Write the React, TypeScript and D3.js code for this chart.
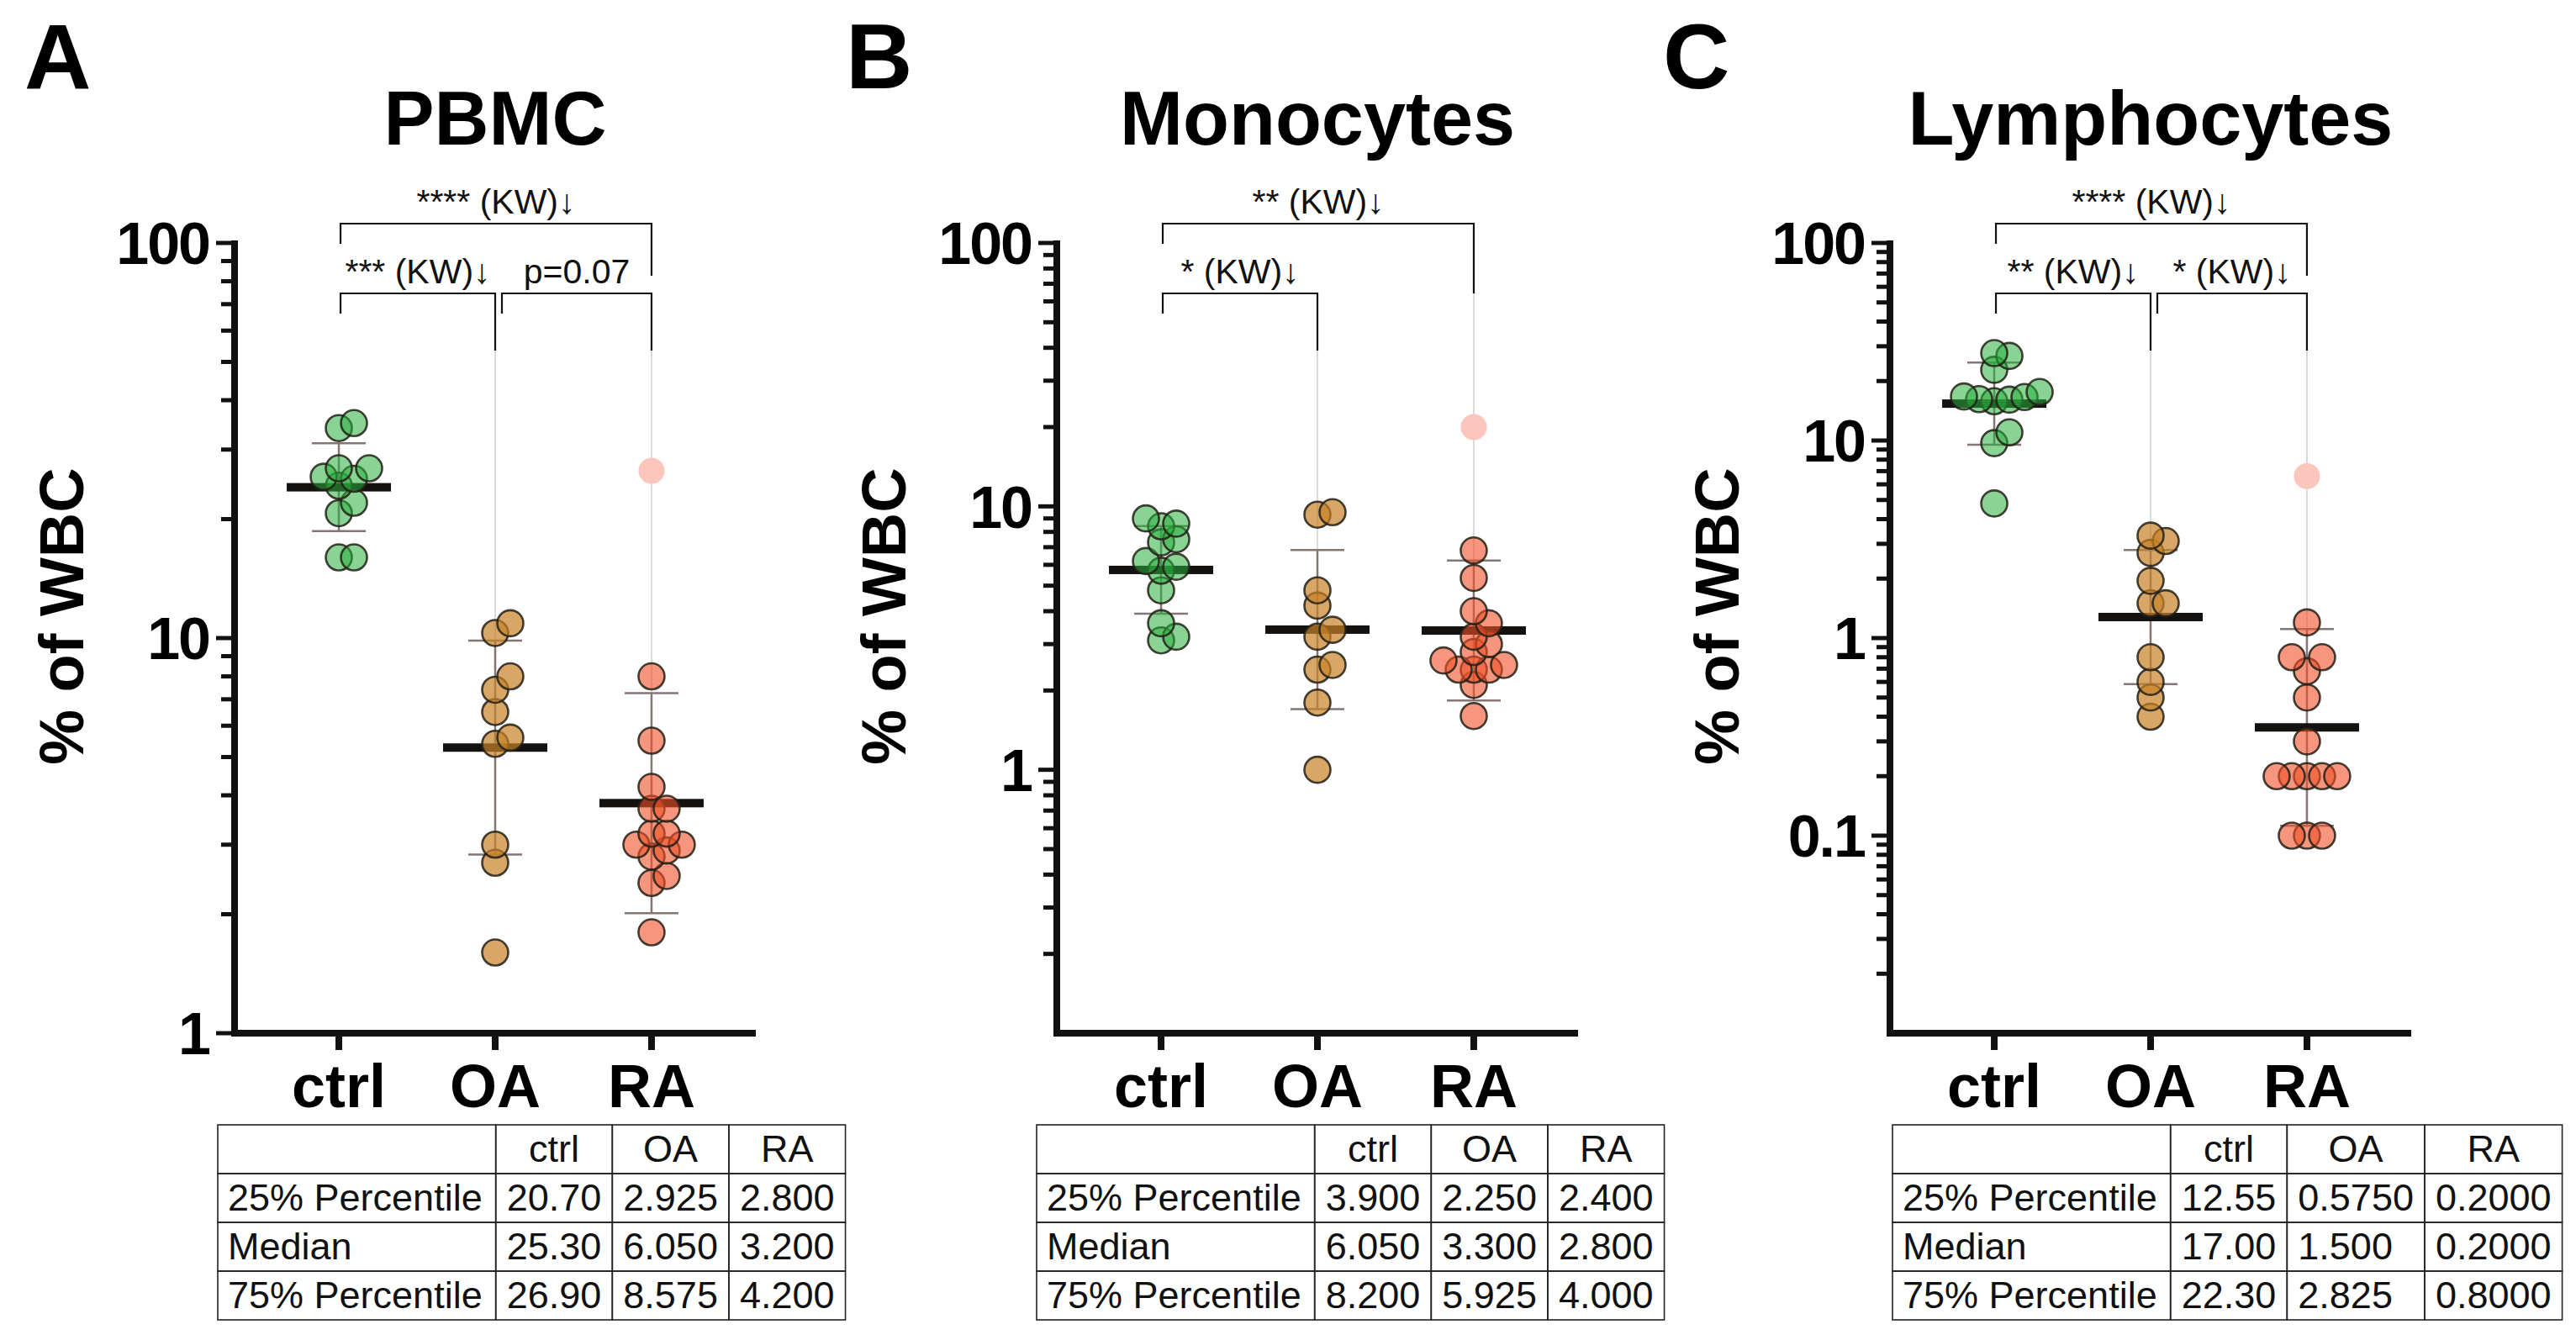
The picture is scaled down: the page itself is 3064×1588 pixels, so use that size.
import * as d3 from "d3";
import {useEffect, useRef} from "react";

const groups = ["ctrl", "OA", "RA"];

// PBMC, % of WBC
const pbmcCtrl = [16, 16, 20.7, 22, 24.3, 25.3, 25.6, 26.9, 26.9, 34, 35];
const pbmcOA = [1.6, 2.7, 3.0, 5.4, 5.6, 6.5, 7.4, 8.0, 10.3, 10.9];
const pbmcRA = [1.8, 2.4, 2.5, 2.8, 2.9, 3.0, 3.0, 3.2, 3.2, 3.7, 3.7, 4.2, 5.5, 8.0];
const pbmcRAOutlier = [26.5];

// Monocytes, % of WBC
const monoCtrl = [3.1, 3.2, 3.6, 4.8, 5.7, 5.9, 6.2, 7.3, 7.5, 8.4, 8.6, 9.0];
const monoOA = [1.0, 1.8, 2.4, 2.5, 3.2, 3.4, 4.2, 4.8, 9.3, 9.5];
const monoRA = [1.6, 2.1, 2.4, 2.4, 2.4, 2.5, 2.6, 2.8, 3.0, 3.2, 3.6, 4.0, 5.35, 6.8];
const monoRAOutlier = [20];

// Lymphocytes, % of WBC
const lymphCtrl = [4.8, 9.7, 11.0, 15.8, 16.1, 16.2, 16.6, 16.7, 17.6, 22.8, 26.8, 27.7];
const lymphOA = [0.4, 0.5, 0.6, 0.8, 1.5, 1.5, 1.95, 2.7, 3.1, 3.3];
const lymphRA = [0.1, 0.1, 0.1, 0.2, 0.2, 0.2, 0.2, 0.2, 0.3, 0.5, 0.68, 0.8, 0.8, 1.2];
const lymphRAOutlier = [6.6];

// y axis domains and labelled ticks
const pbmcDomain = [1, 100];
const monoDomain = [0.1, 100];
const lymphDomain = [0.01, 100];
const pbmcTicks = [1, 10, 100];
const monoTicks = [1, 10, 100];
const lymphTicks = [0.1, 1, 10, 100];

// significance brackets
const pbmcBrackets = [
    {from: "ctrl", to: "RA", level: 1, label: "**** (KW)\u2193"},
    {from: "ctrl", to: "OA", level: 0, label: "*** (KW)\u2193"},
    {from: "OA", to: "RA", level: 0, label: "p=0.07"},
];
const monoBrackets = [
    {from: "ctrl", to: "RA", level: 1, label: "** (KW)\u2193"},
    {from: "ctrl", to: "OA", level: 0, label: "* (KW)\u2193"},
];
const lymphBrackets = [
    {from: "ctrl", to: "RA", level: 1, label: "**** (KW)\u2193"},
    {from: "ctrl", to: "OA", level: 0, label: "** (KW)\u2193"},
    {from: "OA", to: "RA", level: 0, label: "* (KW)\u2193"},
];

// summary tables
const statRows = ["25% Percentile", "Median", "75% Percentile"];
const pbmcTable = [["20.70", "2.925", "2.800"], ["25.30", "6.050", "3.200"], ["26.90", "8.575", "4.200"]];
const monoTable = [["3.900", "2.250", "2.400"], ["6.050", "3.300", "2.800"], ["8.200", "5.925", "4.000"]];
const lymphTable = [["12.55", "0.5750", "0.2000"], ["17.00", "1.500", "0.2000"], ["22.30", "2.825", "0.8000"]];

const fills = ["rgba(40,175,60,0.55)", "rgba(200,130,40,0.7)", "rgba(240,80,40,0.6)"];
const font = "'Liberation Sans', Arial, Helvetica, sans-serif";

export default function App() {
    const svgRef = useRef(null);

    useEffect(() => {
        if (!svgRef.current) return;
        const svg = d3.select(svgRef.current);
        svg.selectAll("*").remove();

        const panels = [
            {letter: "A", letterX: 29, title: "PBMC", axisX: 279, tableX: 259, domain: pbmcDomain, ticks: pbmcTicks,
                data: [pbmcCtrl, pbmcOA, pbmcRA], outliers: [[], [], pbmcRAOutlier], brackets: pbmcBrackets, table: pbmcTable},
            {letter: "B", letterX: 1006, title: "Monocytes", axisX: 1257, tableX: 1233, domain: monoDomain, ticks: monoTicks,
                data: [monoCtrl, monoOA, monoRA], outliers: [[], [], monoRAOutlier], brackets: monoBrackets, table: monoTable},
            {letter: "C", letterX: 1978, title: "Lymphocytes", axisX: 2248, tableX: 2251, domain: lymphDomain, ticks: lymphTicks,
                data: [lymphCtrl, lymphOA, lymphRA], outliers: [[], [], lymphRAOutlier], brackets: lymphBrackets, table: lymphTable},
        ];

        const yTop = 289, yBottom = 1229;
        const r = 15.5;

        const measure = (txt: string, size: number) => {
            const t = svg.append("text").attr("font-family", font).attr("font-size", size).text(txt);
            const w = (t.node() as SVGTextElement).getComputedTextLength();
            t.remove();
            return w;
        };

        panels.forEach(p => {
            const g = svg.append("g");
            const y = d3.scaleLog().domain(p.domain).range([yBottom, yTop]);
            const x = d3.scalePoint().domain(groups).range([p.axisX, p.axisX + 620]).padding(0.667);

            // letter + title
            g.append("text").attr("x", p.letterX).attr("y", 105)
                .attr("font-family", font).attr("font-weight", "bold").attr("font-size", 110)
                .text(p.letter);
            g.append("text").attr("x", x("OA")).attr("y", 172).attr("text-anchor", "middle")
                .attr("font-family", font).attr("font-weight", "bold").attr("font-size", 90)
                .text(p.title);

            // y title
            g.append("text")
                .attr("transform", `translate(${p.axisX - 180},733) rotate(-90)`)
                .attr("text-anchor", "middle")
                .attr("font-family", font).attr("font-weight", "bold").attr("font-size", 74)
                .text("% of WBC");

            // y ticks
            const allTicks = y.ticks().filter(v => v > p.domain[0] * 1.0001 || p.ticks.includes(v));
            allTicks.forEach(v => {
                const major = p.ticks.some(t => Math.abs(t - v) / t < 1e-6);
                g.append("line")
                    .attr("x1", p.axisX - (major ? 22 : 16)).attr("x2", p.axisX)
                    .attr("y1", y(v)).attr("y2", y(v))
                    .attr("stroke", "#111").attr("stroke-width", 5);
            });
            p.ticks.forEach(v => {
                g.append("text").attr("x", p.axisX - 30).attr("y", y(v)).attr("dy", "0.36em")
                    .attr("text-anchor", "end")
                    .attr("font-family", font).attr("font-weight", "bold").attr("font-size", 70)
                    .attr("letter-spacing", -2)
                    .text(String(v));
            });

            // axes
            g.append("line").attr("x1", p.axisX).attr("x2", p.axisX).attr("y1", yTop - 3).attr("y2", yBottom + 4)
                .attr("stroke", "#111").attr("stroke-width", 8);
            g.append("line").attr("x1", p.axisX - 4).attr("x2", p.axisX + 620).attr("y1", yBottom).attr("y2", yBottom)
                .attr("stroke", "#111").attr("stroke-width", 8);
            groups.forEach(c => {
                g.append("line").attr("x1", x(c)).attr("x2", x(c)).attr("y1", yBottom).attr("y2", yBottom + 20)
                    .attr("stroke", "#111").attr("stroke-width", 8);
                g.append("text").attr("x", x(c)).attr("y", 1317).attr("text-anchor", "middle")
                    .attr("font-family", font).attr("font-weight", "bold").attr("font-size", 72)
                    .text(c);
            });

            // geometric mean and geometric SD
            const stats = p.data.map((vals, i) => {
                const logs = vals.concat(p.outliers[i]).map(v => Math.log10(v));
                const m = d3.mean(logs) as number;
                const sd = d3.deviation(logs) as number;
                return {mean: Math.pow(10, m), lo: Math.pow(10, m - sd), hi: Math.pow(10, m + sd)};
            });

            // brackets
            const levelY = [349, 266];
            const tickBottom: Record<string, number> = {};
            p.brackets.forEach(b => {
                const by = levelY[b.level];
                const x1 = (x(b.from) as number) + (b.from === groups[0] ? 2 : 8);
                const x2 = x(b.to) as number;
                let endY = by + 68;
                if (b.level === 1) {
                    const lower = p.brackets.some(o => o.level === 0 && o.to === b.to);
                    endY = lower ? 328 : levelY[0];
                }
                tickBottom[b.to] = Math.max(tickBottom[b.to] || 0, endY);
                g.append("path")
                    .attr("d", `M${x1},${by + 24}V${by}H${x2}V${endY}`)
                    .attr("fill", "none").attr("stroke", "#111").attr("stroke-width", 2.2);
                g.append("text").attr("x", (x1 + x2) / 2).attr("y", by - 12).attr("text-anchor", "middle")
                    .attr("font-family", font).attr("font-size", 41).attr("fill", "#111")
                    .text(b.label);
            });

            // faint guide lines below the bracket ends
            groups.forEach((c, i) => {
                if (!tickBottom[c]) return;
                g.append("line").attr("x1", x(c)).attr("x2", x(c))
                    .attr("y1", tickBottom[c]).attr("y2", y(stats[i].hi))
                    .attr("stroke", "#d2d2d2").attr("stroke-width", 1.6);
            });

            // error bars and mean bars
            groups.forEach((c, i) => {
                const cx = x(c) as number;
                const s = stats[i];
                g.append("path")
                    .attr("d", `M${cx - 32},${y(s.hi)}H${cx + 32}M${cx},${y(s.hi)}V${y(s.lo)}M${cx - 32},${y(s.lo)}H${cx + 32}`)
                    .attr("fill", "none").attr("stroke", "#857575").attr("stroke-width", 2.5);
                g.append("rect").attr("x", cx - 62).attr("y", y(s.mean) - 5).attr("width", 124).attr("height", 10)
                    .attr("fill", "#141210");
            });

            // outliers
            groups.forEach((c, i) => {
                p.outliers[i].forEach(v => {
                    g.append("circle").attr("cx", x(c)).attr("cy", y(v)).attr("r", r).attr("fill", "#fdc6bc");
                });
            });

            // points, simple beeswarm
            groups.forEach((c, i) => {
                const cx = x(c) as number;
                const step = 18, dmin = 18;
                const placed: {x: number, y: number}[] = [];
                [...p.data[i]].sort((a, b) => a - b).forEach(v => {
                    const py = y(v);
                    for (let k = 0; k < 40; k++) {
                        const off = k === 0 ? 0 : (k % 2 ? 1 : -1) * Math.ceil(k / 2) * step;
                        const ok = placed.every(q => (q.x - off) ** 2 + (q.y - py) ** 2 >= dmin * dmin);
                        if (ok) {
                            placed.push({x: off, y: py});
                            break;
                        }
                    }
                });
                placed.forEach(q => {
                    g.append("circle").attr("cx", cx + q.x).attr("cy", q.y).attr("r", r)
                        .attr("fill", fills[i]).attr("stroke", "rgba(35,32,22,0.85)").attr("stroke-width", 2.6);
                });
            });

            // table
            const top = 1338, rowH = 58;
            const colW = [measure(statRows[0], 45) + 28];
            groups.forEach((_, ci) => {
                colW.push(d3.max(p.table, row => measure(row[ci], 45)) as number + 26);
            });
            const colX = [p.tableX];
            colW.forEach((w, ci) => colX.push(colX[ci] + w));
            const tg = g.append("g").attr("font-family", font).attr("font-size", 45).attr("fill", "#111");
            for (let ri = 0; ri < 4; ri++) {
                for (let ci = 0; ci < 4; ci++) {
                    tg.append("rect").attr("x", colX[ci]).attr("y", top + ri * rowH)
                        .attr("width", colW[ci]).attr("height", rowH)
                        .attr("fill", "none").attr("stroke", "#222").attr("stroke-width", 1.6);
                }
            }
            groups.forEach((c, ci) => {
                tg.append("text").attr("x", colX[ci + 1] + colW[ci + 1] / 2).attr("y", top + 44)
                    .attr("text-anchor", "middle").text(c);
            });
            statRows.forEach((lab, ri) => {
                const ty = top + (ri + 1) * rowH + 44;
                tg.append("text").attr("x", colX[0] + 12).attr("y", ty).text(lab);
                p.table[ri].forEach((val, ci) => {
                    tg.append("text").attr("x", colX[ci + 1] + 13).attr("y", ty).text(val);
                });
            });
        });
    }, []);

    return (
        <svg ref={svgRef} width={3064} height={1588}
             style={{position: "absolute", left: 0, top: 0, display: "block", background: "#fff"}}></svg>
    );
}
